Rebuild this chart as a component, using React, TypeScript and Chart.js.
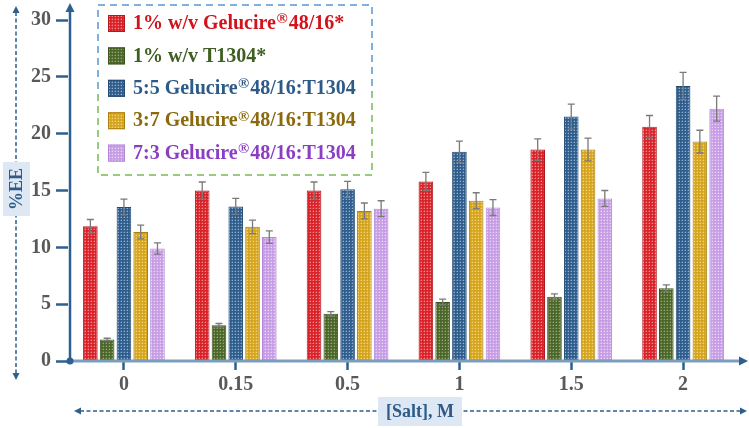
import React, { useEffect, useRef } from "react";
import { Chart, registerables } from "chart.js";
Chart.register(...registerables);

// ---------- data ----------
const categories = ["0", "0.15", "0.5", "1", "1.5", "2"];
const seriesNames = [
  "1% w/v Gelucire®48/16*",
  "1% w/v T1304*",
  "5:5 Gelucire®48/16:T1304",
  "3:7 Gelucire®48/16:T1304",
  "7:3 Gelucire®48/16:T1304",
];
const gelucire = [11.85, 15.0, 15.0, 15.8, 18.6, 20.6];
const gelucireErr = [0.6, 0.75, 0.75, 0.8, 0.95, 1.0];
const t1304 = [1.9, 3.15, 4.15, 5.2, 5.65, 6.4];
const t1304Err = [0.1, 0.15, 0.2, 0.25, 0.25, 0.3];
const mix55 = [13.55, 13.6, 15.1, 18.4, 21.5, 24.2];
const mix55Err = [0.7, 0.7, 0.7, 0.95, 1.1, 1.2];
const mix37 = [11.35, 11.8, 13.2, 14.1, 18.6, 19.3];
const mix37Err = [0.6, 0.6, 0.7, 0.7, 1.0, 1.0];
const mix73 = [9.9, 10.9, 13.4, 13.5, 14.3, 22.2];
const mix73Err = [0.5, 0.55, 0.7, 0.7, 0.7, 1.1];
const yTicks = [0, 5, 10, 15, 20, 25, 30];
const xTitle = "[Salt], M";
const yTitle = "%EE";

// ---------- styles ----------
const barBase = ["#d9232a", "#4d672b", "#2f5d8c", "#d6a51f", "#c79ee6"];
const barDot = ["#f58a8a", "#93a874", "#8fb0d2", "#f2d47a", "#ead6f7"];
const barBorder = ["#b01a20", "#3d5420", "#244a70", "#a88014", "#b488d8"];
const textColors = ["#d1131c", "#3f5f22", "#2e5a87", "#8a6a0c", "#8a3ec4"];
const axisBlue = "#2e5f8e";
const FONT = "'Liberation Serif', 'DejaVu Serif', serif";

function makePattern(base: string, dot: string): CanvasPattern | string {
  const c = document.createElement("canvas");
  c.width = 3;
  c.height = 3;
  const g = c.getContext("2d");
  if (!g) return base;
  g.fillStyle = base;
  g.fillRect(0, 0, 3, 3);
  g.fillStyle = dot;
  g.fillRect(1, 1, 1, 1);
  g.globalAlpha = 0.35;
  g.fillRect(0, 1, 1, 1);
  g.fillRect(1, 0, 1, 1);
  const p = g.createPattern(c, "repeat");
  return p || base;
}

function arrow(ctx: CanvasRenderingContext2D, x: number, y: number, dir: string, size: number, color: string) {
  ctx.save();
  ctx.fillStyle = color;
  ctx.beginPath();
  const s = size;
  if (dir === "up") {
    ctx.moveTo(x, y);
    ctx.lineTo(x - s / 2, y + s);
    ctx.lineTo(x + s / 2, y + s);
  } else if (dir === "down") {
    ctx.moveTo(x, y);
    ctx.lineTo(x - s / 2, y - s);
    ctx.lineTo(x + s / 2, y - s);
  } else if (dir === "left") {
    ctx.moveTo(x, y);
    ctx.lineTo(x + s, y - s / 2);
    ctx.lineTo(x + s, y + s / 2);
  } else {
    ctx.moveTo(x, y);
    ctx.lineTo(x - s, y - s / 2);
    ctx.lineTo(x - s, y + s / 2);
  }
  ctx.closePath();
  ctx.fill();
  ctx.restore();
}

function drawRichText(ctx: CanvasRenderingContext2D, text: string, x: number, y: number, size: number, color: string) {
  const parts = text.split("®");
  let cx = x;
  ctx.fillStyle = color;
  ctx.textBaseline = "middle";
  ctx.textAlign = "left";
  parts.forEach((p, i) => {
    ctx.font = `bold ${size}px ${FONT}`;
    ctx.fillText(p, cx, y);
    cx += ctx.measureText(p).width;
    if (i < parts.length - 1) {
      ctx.font = `bold ${Math.round(size * 0.75)}px ${FONT}`;
      ctx.fillText("®", cx + 0.5, y - size * 0.22);
      cx += ctx.measureText("®").width + 1.5;
    }
  });
}

export default function App() {
  const ref = useRef<HTMLCanvasElement | null>(null);

  useEffect(() => {
    const canvas = ref.current;
    if (!canvas) return;
    const values = [gelucire, t1304, mix55, mix37, mix73];
    const errors = [gelucireErr, t1304Err, mix55Err, mix37Err, mix73Err];
    const patterns = barBase.map((b, i) => makePattern(b, barDot[i]));
    const AXIS_X = 70;

    const decor = {
      id: "decor",
      afterDatasetsDraw(chart: any) {
        const ctx: CanvasRenderingContext2D = chart.ctx;
        const ys = chart.scales.y;
        ctx.save();
        ctx.strokeStyle = "#7a7a7a";
        ctx.lineWidth = 1.3;
        values.forEach((vals, di) => {
          const meta = chart.getDatasetMeta(di);
          meta.data.forEach((el: any, j: number) => {
            const v = vals[j];
            const e = errors[di][j];
            const t = ys.getPixelForValue(v + e);
            const b = ys.getPixelForValue(v - e);
            ctx.beginPath();
            ctx.moveTo(el.x, t);
            ctx.lineTo(el.x, b);
            ctx.moveTo(el.x - 3.5, t);
            ctx.lineTo(el.x + 3.5, t);
            ctx.moveTo(el.x - 3.5, b);
            ctx.lineTo(el.x + 3.5, b);
            ctx.stroke();
          });
        });
        ctx.restore();
      },
      afterDraw(chart: any) {
        const ctx: CanvasRenderingContext2D = chart.ctx;
        const ca = chart.chartArea;
        ctx.save();
        // x axis line
        ctx.strokeStyle = "#7d9dbf";
        ctx.lineWidth = 3;
        ctx.beginPath();
        ctx.moveTo(AXIS_X, ca.bottom);
        ctx.lineTo(741, ca.bottom);
        ctx.stroke();
        arrow(ctx, 748, ca.bottom, "right", 9, axisBlue);
        // y axis line
        ctx.strokeStyle = axisBlue;
        ctx.lineWidth = 2.5;
        ctx.beginPath();
        ctx.moveTo(AXIS_X, ca.bottom);
        ctx.lineTo(AXIS_X, 10);
        ctx.stroke();
        arrow(ctx, AXIS_X, 3, "up", 9, axisBlue);
        ctx.fillStyle = axisBlue;
        ctx.beginPath();
        ctx.arc(AXIS_X, ca.bottom, 3.5, 0, Math.PI * 2);
        ctx.fill();

        // axis titles with dashed arrows
        ctx.setLineDash([4, 2.5]);
        ctx.lineWidth = 1.5;
        ctx.strokeStyle = axisBlue;
        ctx.beginPath();
        ctx.moveTo(16, 12);
        ctx.lineTo(16, 374);
        ctx.stroke();
        ctx.beginPath();
        ctx.moveTo(80, 411);
        ctx.lineTo(740, 411);
        ctx.stroke();
        ctx.setLineDash([]);
        arrow(ctx, 16, 6, "up", 7, axisBlue);
        arrow(ctx, 16, 380, "down", 7, axisBlue);
        arrow(ctx, 74, 411, "left", 7, axisBlue);
        arrow(ctx, 747, 411, "right", 7, axisBlue);
        ctx.fillStyle = "#dde8f4";
        ctx.fillRect(3, 162, 27, 54);
        ctx.fillRect(378, 397, 84, 29);
        ctx.fillStyle = "#2e5a87";
        ctx.font = `bold 18px ${FONT}`;
        ctx.textAlign = "center";
        ctx.textBaseline = "middle";
        ctx.fillText(xTitle, 420, 412);
        ctx.save();
        ctx.translate(17, 189);
        ctx.rotate(-Math.PI / 2);
        ctx.fillText(yTitle, 0, 0);
        ctx.restore();

        // legend box
        const grad = ctx.createLinearGradient(0, 5, 0, 175);
        grad.addColorStop(0, "#7fb0de");
        grad.addColorStop(0.45, "#7fb0de");
        grad.addColorStop(0.55, "#96cc7c");
        grad.addColorStop(1, "#96cc7c");
        ctx.strokeStyle = grad;
        ctx.lineWidth = 2;
        ctx.setLineDash([7, 5]);
        ctx.strokeRect(98, 5, 274, 170);
        ctx.setLineDash([]);
        seriesNames.forEach((name, i) => {
          const cy = 23 + i * 32.4;
          ctx.fillStyle = patterns[i] as any;
          ctx.fillRect(108, cy - 8, 17, 17);
          ctx.strokeStyle = barBorder[i];
          ctx.lineWidth = 1;
          ctx.strokeRect(108.5, cy - 7.5, 16, 16);
          drawRichText(ctx, name, 133, cy + 1, 20, textColors[i]);
        });
        ctx.restore();
      },
    };

    const chart = new Chart(canvas, {
      type: "bar",
      data: {
        labels: categories,
        datasets: values.map((vals, i) => ({
          label: seriesNames[i],
          data: vals,
          backgroundColor: patterns[i] as any,
          borderColor: barBorder[i],
          borderWidth: 1,
          categoryPercentage: 0.75,
          barPercentage: 0.87,
        })),
      },
      options: {
        responsive: false,
        animation: false,
        events: [],
        layout: { padding: { left: 0, right: 10, top: 20, bottom: 0 } },
        plugins: {
          legend: { display: false },
          tooltip: { enabled: false },
        },
        scales: {
          x: {
            grid: {
              drawOnChartArea: false,
              drawTicks: true,
              offset: false,
              tickLength: 9,
              tickColor: axisBlue,
              tickWidth: 2.5,
            },
            border: { display: false },
            ticks: {
              color: "#595959",
              font: { family: FONT, size: 20, weight: "bold" },
              padding: 3,
            },
            afterFit(s: any) {
              s.height = 67;
            },
          },
          y: {
            min: 0,
            max: 30,
            grid: {
              drawOnChartArea: false,
              drawTicks: true,
              tickLength: 12,
              tickColor: axisBlue,
              tickWidth: 2.5,
            },
            border: { display: false },
            ticks: {
              stepSize: 5,
              color: "#595959",
              font: { family: FONT, size: 20, weight: "bold" },
              padding: 5,
            },
            afterBuildTicks(s: any) {
              s.ticks = yTicks.map((v) => ({ value: v }));
            },
            afterFit(s: any) {
              s.width = 68;
            },
          },
        },
      },
      plugins: [decor],
    } as any);
    return () => chart.destroy();
  }, []);

  return (
    <div style={{ position: "fixed", left: 0, top: 0, width: 749, height: 428, background: "#fff" }}>
      <canvas ref={ref} width={749} height={428} style={{ display: "block" }} />
    </div>
  );
}
